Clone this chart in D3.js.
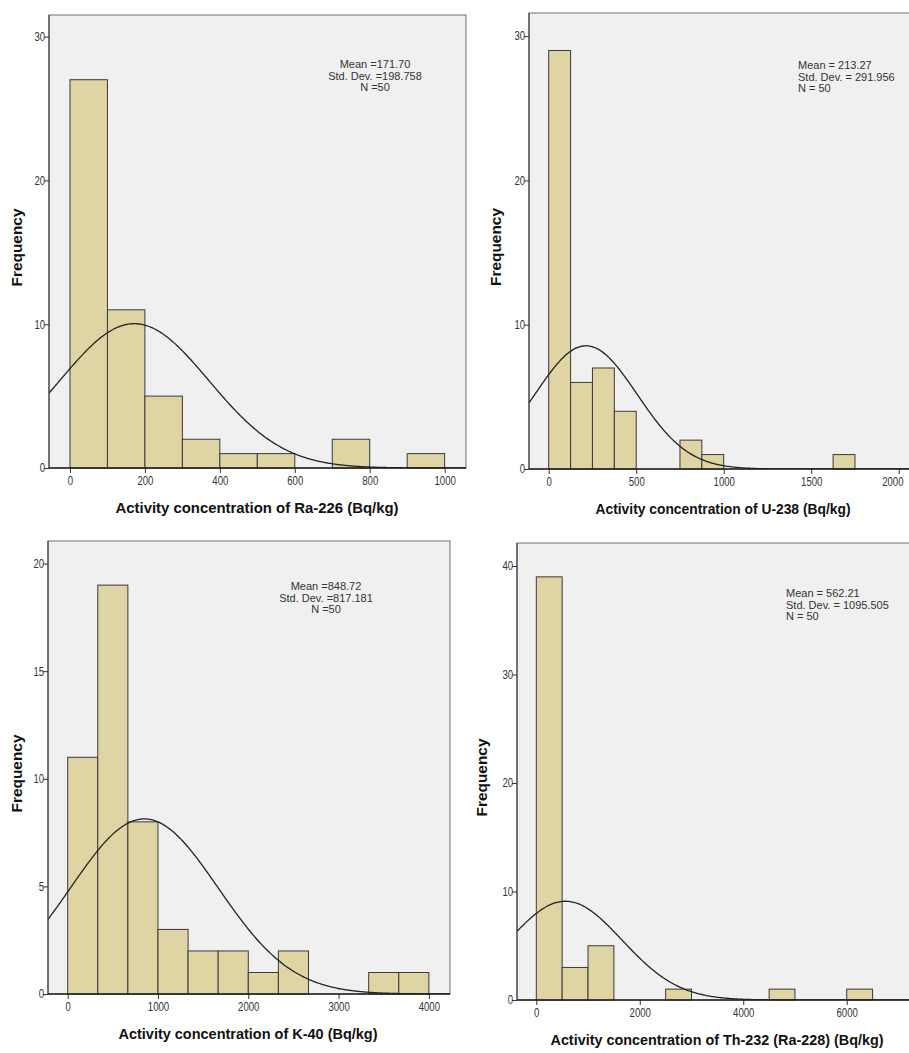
<!DOCTYPE html>
<html>
<head>
<meta charset="utf-8">
<script src="https://cdn.jsdelivr.net/npm/d3@7"></script>
<style>
  body { margin: 0; background: #fff; }
  svg { display: block; font-family: "Liberation Sans", Arial, sans-serif; }
</style>
</head>
<body>
<svg id="chart" width="909" height="1053"></svg>
<script>
// histogram counts
var raCounts = [27, 11, 5, 2, 1, 1, 0, 2, 0, 1];
var uCounts = [29, 6, 7, 4, 0, 0, 2, 1, 0, 0, 0, 0, 0, 1];
var kCounts = [11, 19, 8, 3, 2, 2, 1, 2, 0, 0, 1, 1];
var thCounts = [39, 3, 5, 0, 0, 1, 0, 0, 0, 1, 0, 0, 1];

var binWidths = [100, 125, 4000 / 12, 500];
var means = [171.70, 213.27, 848.72, 562.21];
var stdDevs = [198.758, 291.956, 817.181, 1095.505];
var nValues = [50, 50, 50, 50];

var xTicks = [
  [0, 200, 400, 600, 800, 1000],
  [0, 500, 1000, 1500, 2000],
  [0, 1000, 2000, 3000, 4000],
  [0, 2000, 4000, 6000]
];
var yTicks = [
  [0, 10, 20, 30],
  [0, 10, 20, 30],
  [0, 5, 10, 15, 20],
  [0, 10, 20, 30, 40]
];
var xTitles = [
  "Activity concentration of Ra-226 (Bq/kg)",
  "Activity concentration of U-238 (Bq/kg)",
  "Activity concentration of K-40 (Bq/kg)",
  "Activity concentration of Th-232 (Ra-228) (Bq/kg)"
];

// panel layout: plot box in pixels and the value ranges it covers
var panels = [
  { counts: raCounts, box: [49, 15, 466, 468], xdom: [-56, 1057], ydom: [0, 31.5],
    statsX: 375, statsY: 68, statsAnchor: "middle", sep: " =", titleW: 283, titleX: 257, yTitleX: 17 },
  { counts: uCounts, box: [529, 13, 915, 469], xdom: [-112.6, 2093], ydom: [0, 31.6],
    statsX: 798, statsY: 69, statsAnchor: "start", sep: " = ", titleW: 255, titleX: 723, yTitleX: 496 },
  { counts: kCounts, box: [48, 541, 450, 994], xdom: [-218, 4234], ydom: [0, 21.05],
    statsX: 326, statsY: 590, statsAnchor: "middle", sep: " =", titleW: 259, titleX: 248, yTitleX: 17 },
  { counts: thCounts, box: [517, 543, 915, 1000], xdom: [-373, 7320], ydom: [0, 42.12],
    statsX: 786, statsY: 597, statsAnchor: "start", sep: " = ", titleW: 333, titleX: 717, yTitleX: 482 }
];

var svg = d3.select("#chart");

panels.forEach(function (p, i) {
  var left = p.box[0], top = p.box[1], right = p.box[2], bottom = p.box[3];
  var x = d3.scaleLinear().domain(p.xdom).range([left, right]);
  var y = d3.scaleLinear().domain(p.ydom).range([bottom, top]);
  var w = binWidths[i];
  var g = svg.append("g");

  g.append("clipPath").attr("id", "clip" + i)
    .append("rect")
      .attr("x", left).attr("y", top)
      .attr("width", right - left).attr("height", bottom - top);

  g.append("rect")
    .attr("x", left).attr("y", top)
    .attr("width", right - left).attr("height", bottom - top)
    .attr("fill", "#f0f0f0")
    .attr("stroke", "#6e6e6e");

  // bars
  g.selectAll("rect.bar")
    .data(p.counts.map(function (c, k) { return { x0: k * w, x1: (k + 1) * w, c: c }; })
      .filter(function (d) { return d.c > 0; }))
    .enter().append("rect")
      .attr("class", "bar")
      .attr("x", function (d) { return x(d.x0); })
      .attr("y", function (d) { return y(d.c); })
      .attr("width", function (d) { return x(d.x1) - x(d.x0); })
      .attr("height", function (d) { return y(0) - y(d.c); })
      .attr("fill", "#ded4a4")
      .attr("stroke", "#3a3a3a")
      .attr("stroke-width", 1);

  // normal curve
  var m = means[i], s = stdDevs[i], n = nValues[i];
  var pts = d3.range(p.xdom[0], p.xdom[1], (p.xdom[1] - p.xdom[0]) / 300).concat([p.xdom[1]]);
  var line = d3.line()
    .x(function (v) { return x(v); })
    .y(function (v) {
      return y(n * w * Math.exp(-0.5 * Math.pow((v - m) / s, 2)) / (s * Math.sqrt(2 * Math.PI)));
    })
    .curve(d3.curveBasis);
  g.append("path")
    .attr("d", line(pts))
    .attr("fill", "none")
    .attr("stroke", "#222")
    .attr("stroke-width", 1.3)
    .attr("clip-path", "url(#clip" + i + ")");

  // axes
  var xAxis = g.append("g")
    .attr("transform", "translate(0," + bottom + ")")
    .call(d3.axisBottom(x).tickValues(xTicks[i]).tickSize(5).tickSizeOuter(0).tickFormat(d3.format("d")));
  var yAxis = g.append("g")
    .attr("transform", "translate(" + left + ",0)")
    .call(d3.axisLeft(y).tickValues(yTicks[i]).tickSize(5).tickSizeOuter(0).tickFormat(d3.format("d")));
  [xAxis, yAxis].forEach(function (a) {
    a.select(".domain").remove();
    a.selectAll("line").attr("stroke", "#333");
    a.selectAll("text")
      .attr("fill", "#333")
      .style("font-size", "12px")
      .style("font-family", "\"Liberation Sans\", Arial, sans-serif")
      .attr("lengthAdjust", "spacingAndGlyphs")
      .attr("textLength", function () { return this.getComputedTextLength() * 0.8; });
  });
  xAxis.selectAll("text").attr("dy", "0.95em").attr("y", 6);
  // keep the last label inside the page, as the reference shows it flush to the edge
  xAxis.selectAll(".tick").each(function (d) {
    var t = d3.select(this).select("text");
    var half = +t.attr("textLength") / 2;
    if (x(d) + half > 905) t.attr("text-anchor", "end").attr("x", 903 - x(d));
  });
  yAxis.selectAll("text").attr("x", -5).attr("dx", "0.1em");
  g.append("line")
    .attr("x1", left).attr("x2", right)
    .attr("y1", bottom).attr("y2", bottom)
    .attr("stroke", "#222").attr("stroke-width", 1.3);
  g.append("line")
    .attr("x1", left).attr("x2", left)
    .attr("y1", top).attr("y2", bottom)
    .attr("stroke", "#333");

  // titles
  g.append("text")
    .attr("x", p.titleX)
    .attr("y", bottom + 45)
    .attr("text-anchor", "middle")
    .attr("font-weight", "bold")
    .attr("font-size", 14)
    .attr("fill", "#111")
    .attr("textLength", p.titleW)
    .attr("lengthAdjust", "spacingAndGlyphs")
    .text(xTitles[i]);
  g.append("text")
    .attr("transform", "translate(" + p.yTitleX + "," + ((top + bottom) / 2 + 6) + ") rotate(-90)")
    .attr("dy", "0.35em")
    .attr("text-anchor", "middle")
    .attr("font-weight", "bold")
    .attr("font-size", 14.5)
    .attr("fill", "#111")
    .attr("textLength", 78)
    .attr("lengthAdjust", "spacingAndGlyphs")
    .text("Frequency");

  // stats box
  var lines = [
    "Mean" + p.sep + d3.format(".2f")(m),
    "Std. Dev." + p.sep + d3.format(".3f")(s),
    "N" + p.sep + n
  ];
  g.selectAll("text.stat")
    .data(lines)
    .enter().append("text")
      .attr("class", "stat")
      .attr("x", p.statsX)
      .attr("y", function (d, k) { return p.statsY + k * 11.5; })
      .attr("text-anchor", p.statsAnchor)
      .attr("font-size", 11)
      .attr("fill", "#333")
      .text(function (d) { return d; });
});
</script>
</body>
</html>
